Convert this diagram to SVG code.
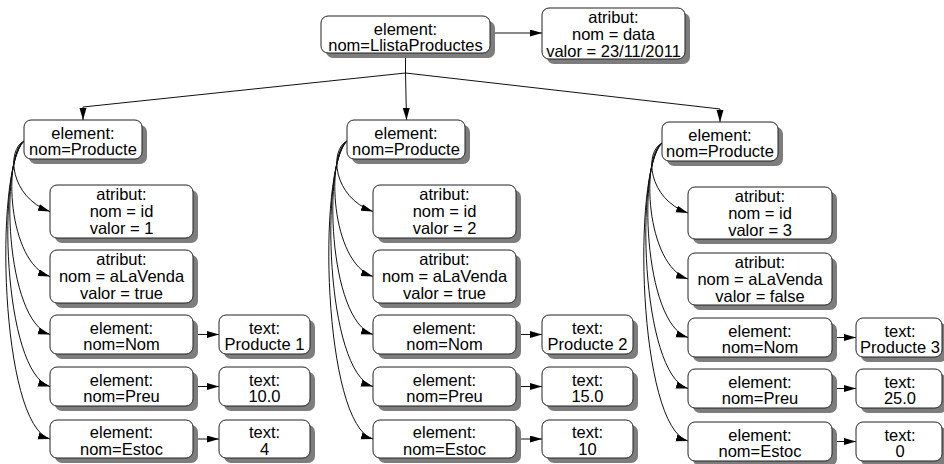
<svg xmlns="http://www.w3.org/2000/svg" width="944" height="464" viewBox="0 0 944 464">
<style>
.sh{fill:#7d7d7d}
.bx{fill:#fff;stroke:#222;stroke-width:1}
text{font-family:"Liberation Sans",Arial,sans-serif;font-size:16.5px;fill:#000;text-anchor:middle}
.e{fill:none;stroke:#111;stroke-width:1;marker-end:url(#ah)}
</style>
<defs>
<marker id="ah" markerUnits="userSpaceOnUse" markerWidth="13" markerHeight="8" refX="12" refY="3.5" orient="auto">
<path d="M0,0 L12,3.5 L0,7 z" fill="#000"/>
</marker>
</defs>
<rect width="944" height="464" fill="#fff"/>
<g id="connectors">
<path class="e" d="M490,33 L542,33"/>
<path class="e" d="M405.5,53 L405.5,73 L83,107 L83,120"/>
<path class="e" d="M405.5,53 L405.5,73 L406.5,120"/>
<path class="e" d="M405.5,53 L405.5,73 L720,109 L720,122"/>
<path class="e" d="M24,141 C6,150 10,197.5 50,211.5"/>
<path class="e" d="M24,141 C3,155 7.5,262.5 50,276.5"/>
<path class="e" d="M24,141 C0,160 5,320.5 50,334.5"/>
<path class="e" d="M24,141 C-3,165 2.5,372.5 50,386.5"/>
<path class="e" d="M24,141 C-6,170 0,425 50,439"/>
<path class="e" d="M347,141 C329,150 333,197.5 373,211.5"/>
<path class="e" d="M347,141 C326,155 330.5,262.5 373,276.5"/>
<path class="e" d="M347,141 C323,160 328,320.5 373,334.5"/>
<path class="e" d="M347,141 C320,165 325.5,372.5 373,386.5"/>
<path class="e" d="M347,141 C317,170 323,425 373,439"/>
<path class="e" d="M662,143 C644,152 648,199 688,213"/>
<path class="e" d="M662,143 C641,157 645.5,265 688,279"/>
<path class="e" d="M662,143 C638,162 643,323.5 688,337.5"/>
<path class="e" d="M662,143 C635,167 640.5,374.5 688,388.5"/>
<path class="e" d="M662,143 C632,172 638,427 688,441"/>
<path class="e" d="M193,334.5 L219,334.5"/>
<path class="e" d="M193,386.5 L219,386.5"/>
<path class="e" d="M193,439 L219,439"/>
<path class="e" d="M516,334.5 L542,334.5"/>
<path class="e" d="M516,386.5 L542,386.5"/>
<path class="e" d="M516,439 L542,439"/>
<path class="e" d="M832,337.5 L856,337.5"/>
<path class="e" d="M832,388.5 L856,388.5"/>
<path class="e" d="M832,441.5 L856,441.5"/>
</g>
<g id="root"><rect class="sh" x="326" y="21" width="169" height="37" rx="7"/><rect class="bx" x="321" y="16" width="169" height="37" rx="7"/><text x="405.5" y="34.5">element:</text><text x="405.5" y="51">nom=LlistaProductes</text></g>
<g id="attr_data"><rect class="sh" x="547" y="13" width="143" height="51" rx="7"/><rect class="bx" x="542" y="8" width="143" height="51" rx="7"/><text x="613.5" y="23">atribut:</text><text x="613.5" y="40">nom = data</text><text x="613.5" y="57">valor = 23/11/2011</text></g>

<g id="p1"><rect class="sh" x="29" y="125" width="118" height="39" rx="7"/><rect class="bx" x="24" y="120" width="118" height="39" rx="7"/><text x="83" y="138.5">element:</text><text x="83" y="155">nom=Producte</text></g>
<g id="p1_id"><rect class="sh" x="55" y="190" width="143" height="53" rx="7"/><rect class="bx" x="50" y="185" width="143" height="53" rx="7"/><text x="121.5" y="200">atribut:</text><text x="121.5" y="217">nom = id</text><text x="121.5" y="234">valor = 1</text></g>
<g id="p1_venda"><rect class="sh" x="55" y="255" width="143" height="53" rx="7"/><rect class="bx" x="50" y="250" width="143" height="53" rx="7"/><text x="121.5" y="265">atribut:</text><text x="121.5" y="282">nom = aLaVenda</text><text x="121.5" y="299">valor = true</text></g>
<g id="p1_nom"><rect class="sh" x="55" y="320" width="143" height="39" rx="7"/><rect class="bx" x="50" y="315" width="143" height="39" rx="7"/><text x="121.5" y="333.5">element:</text><text x="121.5" y="350">nom=Nom</text></g>
<g id="p1_preu"><rect class="sh" x="55" y="372" width="143" height="39" rx="7"/><rect class="bx" x="50" y="367" width="143" height="39" rx="7"/><text x="121.5" y="385.5">element:</text><text x="121.5" y="402">nom=Preu</text></g>
<g id="p1_estoc"><rect class="sh" x="55" y="425" width="143" height="38" rx="7"/><rect class="bx" x="50" y="420" width="143" height="38" rx="7"/><text x="121.5" y="438">element:</text><text x="121.5" y="454.5">nom=Estoc</text></g>
<g id="p1_t_nom"><rect class="sh" x="224" y="320" width="91" height="39" rx="7"/><rect class="bx" x="219" y="315" width="91" height="39" rx="7"/><text x="264.5" y="333.5">text:</text><text x="264.5" y="350">Producte 1</text></g>
<g id="p1_t_preu"><rect class="sh" x="224" y="372" width="91" height="39" rx="7"/><rect class="bx" x="219" y="367" width="91" height="39" rx="7"/><text x="264.5" y="385.5">text:</text><text x="264.5" y="402">10.0</text></g>
<g id="p1_t_estoc"><rect class="sh" x="224" y="425" width="91" height="38" rx="7"/><rect class="bx" x="219" y="420" width="91" height="38" rx="7"/><text x="264.5" y="438">text:</text><text x="264.5" y="454.5">4</text></g>

<g id="p2"><rect class="sh" x="352" y="125" width="118" height="39" rx="7"/><rect class="bx" x="347" y="120" width="118" height="39" rx="7"/><text x="406" y="138.5">element:</text><text x="406" y="155">nom=Producte</text></g>
<g id="p2_id"><rect class="sh" x="378" y="190" width="143" height="53" rx="7"/><rect class="bx" x="373" y="185" width="143" height="53" rx="7"/><text x="444.5" y="200">atribut:</text><text x="444.5" y="217">nom = id</text><text x="444.5" y="234">valor = 2</text></g>
<g id="p2_venda"><rect class="sh" x="378" y="255" width="143" height="53" rx="7"/><rect class="bx" x="373" y="250" width="143" height="53" rx="7"/><text x="444.5" y="265">atribut:</text><text x="444.5" y="282">nom = aLaVenda</text><text x="444.5" y="299">valor = true</text></g>
<g id="p2_nom"><rect class="sh" x="378" y="320" width="143" height="39" rx="7"/><rect class="bx" x="373" y="315" width="143" height="39" rx="7"/><text x="444.5" y="333.5">element:</text><text x="444.5" y="350">nom=Nom</text></g>
<g id="p2_preu"><rect class="sh" x="378" y="372" width="143" height="39" rx="7"/><rect class="bx" x="373" y="367" width="143" height="39" rx="7"/><text x="444.5" y="385.5">element:</text><text x="444.5" y="402">nom=Preu</text></g>
<g id="p2_estoc"><rect class="sh" x="378" y="425" width="143" height="38" rx="7"/><rect class="bx" x="373" y="420" width="143" height="38" rx="7"/><text x="444.5" y="438">element:</text><text x="444.5" y="454.5">nom=Estoc</text></g>
<g id="p2_t_nom"><rect class="sh" x="547" y="320" width="91" height="39" rx="7"/><rect class="bx" x="542" y="315" width="91" height="39" rx="7"/><text x="587.5" y="333.5">text:</text><text x="587.5" y="350">Producte 2</text></g>
<g id="p2_t_preu"><rect class="sh" x="547" y="372" width="91" height="39" rx="7"/><rect class="bx" x="542" y="367" width="91" height="39" rx="7"/><text x="587.5" y="385.5">text:</text><text x="587.5" y="402">15.0</text></g>
<g id="p2_t_estoc"><rect class="sh" x="547" y="425" width="91" height="38" rx="7"/><rect class="bx" x="542" y="420" width="91" height="38" rx="7"/><text x="587.5" y="438">text:</text><text x="587.5" y="454.5">10</text></g>

<g id="p3"><rect class="sh" x="667" y="127" width="116" height="39" rx="7"/><rect class="bx" x="662" y="122" width="116" height="39" rx="7"/><text x="720" y="140.5">element:</text><text x="720" y="157">nom=Producte</text></g>
<g id="p3_id"><rect class="sh" x="693" y="192" width="144" height="52" rx="7"/><rect class="bx" x="688" y="187" width="144" height="52" rx="7"/><text x="760" y="202">atribut:</text><text x="760" y="219">nom = id</text><text x="760" y="236">valor = 3</text></g>
<g id="p3_venda"><rect class="sh" x="693" y="258" width="144" height="52" rx="7"/><rect class="bx" x="688" y="253" width="144" height="52" rx="7"/><text x="760" y="268">atribut:</text><text x="760" y="285">nom = aLaVenda</text><text x="760" y="302">valor = false</text></g>
<g id="p3_nom"><rect class="sh" x="693" y="323" width="144" height="39" rx="7"/><rect class="bx" x="688" y="318" width="144" height="39" rx="7"/><text x="760" y="336.5">element:</text><text x="760" y="353">nom=Nom</text></g>
<g id="p3_preu"><rect class="sh" x="693" y="374" width="144" height="39" rx="7"/><rect class="bx" x="688" y="369" width="144" height="39" rx="7"/><text x="760" y="387.5">element:</text><text x="760" y="404">nom=Preu</text></g>
<g id="p3_estoc"><rect class="sh" x="693" y="427" width="144" height="39" rx="7"/><rect class="bx" x="688" y="422" width="144" height="39" rx="7"/><text x="760" y="440.5">element:</text><text x="760" y="457">nom=Estoc</text></g>
<g id="p3_t_nom"><rect class="sh" x="861" y="323" width="86" height="39" rx="7"/><rect class="bx" x="856" y="318" width="86" height="39" rx="7"/><text x="900" y="336.5">text:</text><text x="900" y="353">Producte 3</text></g>
<g id="p3_t_preu"><rect class="sh" x="861" y="374" width="86" height="39" rx="7"/><rect class="bx" x="856" y="369" width="86" height="39" rx="7"/><text x="900" y="387.5">text:</text><text x="900" y="404">25.0</text></g>
<g id="p3_t_estoc"><rect class="sh" x="861" y="427" width="86" height="39" rx="7"/><rect class="bx" x="856" y="422" width="86" height="39" rx="7"/><text x="900" y="440.5">text:</text><text x="900" y="457">0</text></g>
</svg>
